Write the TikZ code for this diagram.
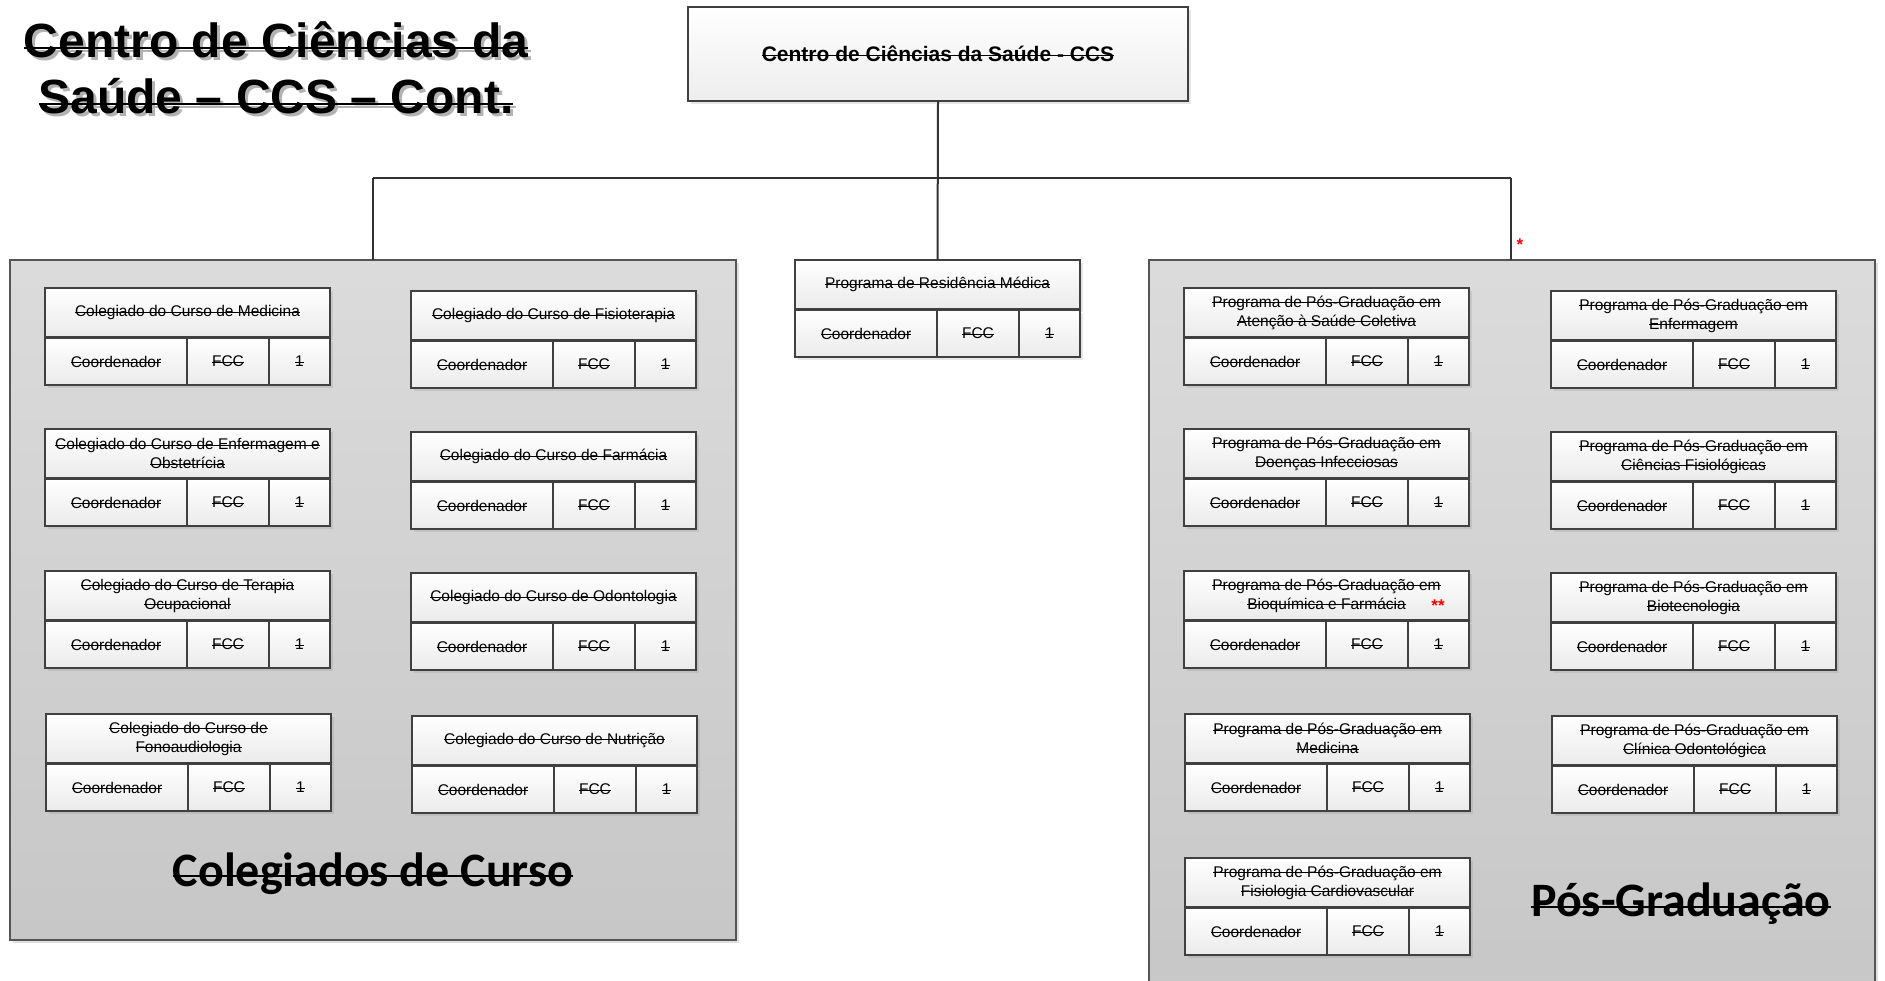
\documentclass[tikz,border=0pt]{standalone}
\usepackage{fontspec}
\setmainfont{Liberation Sans}
\newfontfamily\calibri{Carlito}
\usetikzlibrary{shadows}

\definecolor{boxline}{HTML}{404040}
\definecolor{panelline}{HTML}{555555}

\newsavebox{\stbox}
\def\stthick{0.9pt}
\def\straise{0.5ex}
\newcommand{\st}[1]{\sbox{\stbox}{#1}\rlap{\rule[\straise]{\wd\stbox}{\stthick}}\usebox{\stbox}}
\newcommand{\shtext}[1]{\rlap{\kern3pt\raisebox{-3pt}{\color{black!30}#1}}#1}

\tikzset{
  panel/.style={draw=panelline, line width=1.5pt, top color=black!14, bottom color=black!22,
    anchor=north west, inner sep=0pt, outer sep=0pt,
    drop shadow={shadow xshift=3pt, shadow yshift=-3pt, opacity=0.25}},
  cardhead/.style={draw=boxline, line width=2pt, top color=white, bottom color=black!8,
    minimum width=285pt, minimum height=49pt, inner sep=0pt, outer sep=0pt, align=center,
    font=\fontsize{15.5}{19}\selectfont\def\stthick{0.9pt}, anchor=north west,
    drop shadow={shadow xshift=3pt, shadow yshift=-3pt, opacity=0.2}},
  cardcell/.style={draw=boxline, line width=2pt, top color=white, bottom color=black!8,
    minimum height=47pt, inner sep=0pt, outer sep=0pt,
    font=\fontsize{15.5}{19}\selectfont\def\stthick{0.9pt}, anchor=north west,
    drop shadow={shadow xshift=3pt, shadow yshift=-3pt, opacity=0.2}},
  conn/.style={draw=black!80, line width=2pt},
  bigtitle/.style={anchor=base, font=\bfseries\fontsize{48}{56}\selectfont\def\stthick{2.5pt}\def\straise{0.3ex}},
  paneltitle/.style={font=\calibri\bfseries\fontsize{48}{56}\selectfont\def\stthick{2pt}\def\straise{0.4ex}},
  asterisk/.style={text=red, font=\bfseries\fontsize{17}{19}\selectfont, inner sep=0pt},
}

\newcommand{\cardbox}[4]{%
  \node[cardhead] (#1) at (#2,#3) {#4};
  \node[cardcell, minimum width=142pt] (#1-c) at ([yshift=-1pt]#1.south west) {\st{Coordenador}};
  \node[cardcell, minimum width=82pt] (#1-f) at (#1-c.north east) {\st{FCC}};
  \node[cardcell, minimum width=61pt] (#1-n) at (#1-f.north east) {\st{1}};
}

\begin{document}
\begin{tikzpicture}[x=1pt,y=-1pt]
\useasboundingbox (0,0) rectangle (1885,980);

\node[bigtitle] (titletop) at (276,57) {\shtext{\st{Centro de Ciências da}}};
\node[bigtitle] (titlebot) at (276,113) {\shtext{\st{Saúde -- CCS -- Cont.}}};

\node[draw=boxline, line width=1.5pt, top color=white, bottom color=black!7,
  minimum width=500pt, minimum height=94pt, anchor=north west, outer sep=0pt,
  font=\bfseries\fontsize{21}{24}\selectfont\def\stthick{1.2pt},
  drop shadow={shadow xshift=3pt, shadow yshift=-3pt, opacity=0.2}]
  (ccs) at (688,7) {\st{Centro de Ciências da Saúde - CCS}};

\node[panel, minimum width=726pt, minimum height=680pt] (colpanel) at (10,260) {};
\node[panel, minimum width=726pt, minimum height=740pt] (pospanel) at (1149,260) {};

\cardbox{res}{795}{260}{\st{Programa de Residência Médica}}

\coordinate (busL) at (373,178);
\coordinate (busR) at (1511,178);
\draw[conn] (ccs.south) -- (res.north);
\draw[conn] (busL) -- (busR);
\draw[conn] (busL) -- (busL |- colpanel.north);
\draw[conn] (busR) -- (busR |- pospanel.north);

\cardbox{med}{45}{288}{\st{Colegiado do Curso de Medicina}}
\cardbox{enf}{45}{429}{\st{Colegiado do Curso de Enfermagem e}\\\st{Obstetrícia}}
\cardbox{ter}{45}{571}{\st{Colegiado do Curso de Terapia}\\\st{Ocupacional}}
\cardbox{fon}{46}{714}{\st{Colegiado do Curso de}\\\st{Fonoaudiologia}}
\cardbox{fis}{411}{291}{\st{Colegiado do Curso de Fisioterapia}}
\cardbox{far}{411}{432}{\st{Colegiado do Curso de Farmácia}}
\cardbox{odo}{411}{573}{\st{Colegiado do Curso de Odontologia}}
\cardbox{nut}{412}{716}{\st{Colegiado do Curso de Nutrição}}

\cardbox{pgsc}{1184}{288}{\st{Programa de Pós-Graduação em}\\\st{Atenção à Saúde Coletiva}}
\cardbox{pgdi}{1184}{429}{\st{Programa de Pós-Graduação em}\\\st{Doenças Infecciosas}}
\cardbox{pgbf}{1184}{571}{\st{Programa de Pós-Graduação em}\\\st{Bioquímica e Farmácia}}
\cardbox{pgme}{1185}{714}{\st{Programa de Pós-Graduação em}\\\st{Medicina}}
\cardbox{pgfc}{1185}{858}{\st{Programa de Pós-Graduação em}\\\st{Fisiologia Cardiovascular}}
\cardbox{pgen}{1551}{291}{\st{Programa de Pós-Graduação em}\\\st{Enfermagem}}
\cardbox{pgcf}{1551}{432}{\st{Programa de Pós-Graduação em}\\\st{Ciências Fisiológicas}}
\cardbox{pgbt}{1551}{573}{\st{Programa de Pós-Graduação em}\\\st{Biotecnologia}}
\cardbox{pgco}{1552}{716}{\st{Programa de Pós-Graduação em}\\\st{Clínica Odontológica}}

\node[asterisk] (ast1) at (1520,245) {*};
\node[asterisk] (ast2) at (1438,606) {**};

\node[paneltitle] (coltitle) at (373,874) {\st{Colegiados de Curso}};
\node[paneltitle] (postitle) at (1681,904) {\st{Pós-Graduação}};
\end{tikzpicture}
\end{document}
